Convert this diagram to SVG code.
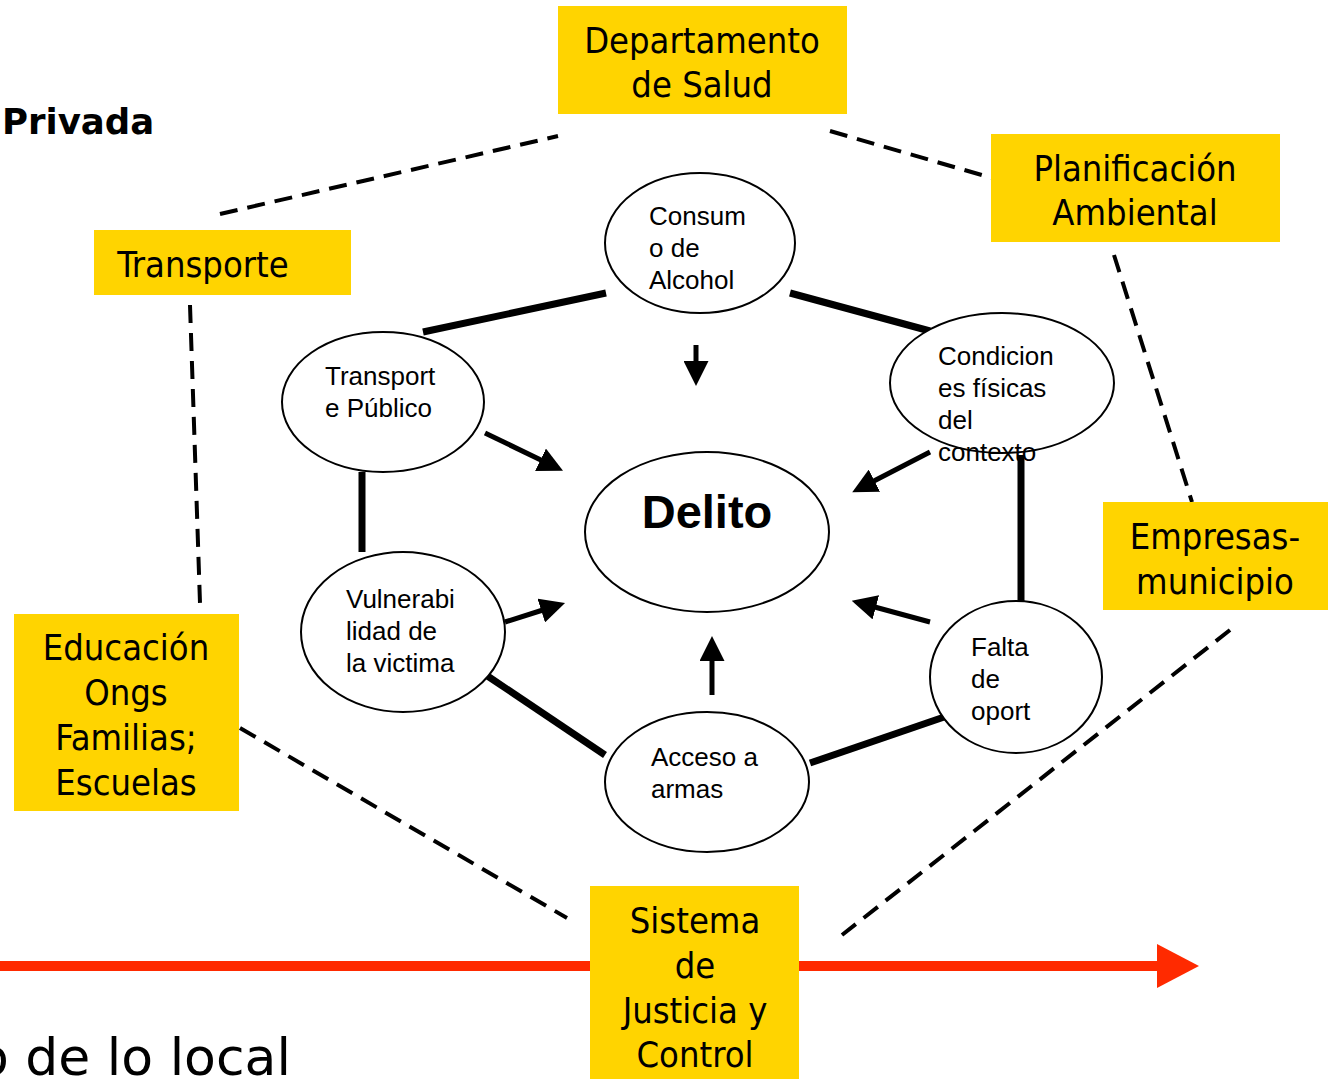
<svg xmlns="http://www.w3.org/2000/svg" width="1330" height="1079" viewBox="0 0 1330 1079">
<defs>
<style>
.box{fill:#FFD400}
.bt{font-family:"DejaVu Sans Condensed","Liberation Sans",sans-serif;font-size:36px;fill:#000;text-anchor:middle}
.el{fill:#fff;stroke:#000;stroke-width:2}
.et{font-family:"Liberation Sans",Arial,sans-serif;font-size:26px;fill:#000}
.dash{stroke:#000;stroke-width:4;stroke-dasharray:18 10;fill:none}
.thick{stroke:#000;stroke-width:7;fill:none}
.arr{stroke:#000;stroke-width:5;fill:none;marker-end:url(#ah)}
</style>
<marker id="ah" viewBox="0 0 10 10" refX="2" refY="5" markerWidth="5" markerHeight="5" orient="auto" markerUnits="strokeWidth">
<path d="M0,0 L10,5 L0,10 z" fill="#000"/>
</marker>
</defs>
<rect width="1330" height="1079" fill="#fff"/>

<g id="connectors">
<line class="dash" x1="220" y1="214" x2="558" y2="136"/>
<line class="dash" x1="830" y1="131" x2="992" y2="178"/>
<line class="dash" x1="1114" y1="255" x2="1192" y2="502"/>
<line class="dash" x1="190" y1="305" x2="200" y2="603"/>
<line class="dash" x1="240" y1="728" x2="567" y2="918"/>
<line class="dash" x1="1230" y1="630" x2="842" y2="935"/>
<line class="thick" x1="423" y1="332" x2="606" y2="293"/>
<line class="thick" x1="790" y1="293" x2="930" y2="331"/>
<line class="thick" x1="1021" y1="455" x2="1021" y2="618"/>
<line class="thick" x1="810" y1="763" x2="950" y2="715"/>
<line class="thick" x1="605" y1="755" x2="486" y2="675"/>
<line class="thick" x1="362" y1="472" x2="362" y2="552"/>
<line class="arr" x1="696" y1="345" x2="696" y2="366"/>
<line class="arr" x1="485" y1="433" x2="545" y2="462"/>
<line class="arr" x1="930" y1="452" x2="870" y2="483"/>
<line class="arr" x1="505" y1="622" x2="546" y2="609"/>
<line class="arr" x1="930" y1="622" x2="871" y2="606"/>
<line class="arr" x1="712" y1="695" x2="712" y2="656"/>
<line x1="0" y1="966" x2="1162" y2="966" stroke="#FF2A00" stroke-width="10"/>
<path d="M1157,944 L1199,966 L1157,988 z" fill="#FF2A00"/>
</g>

<text x="2" y="134" font-family="DejaVu Sans,sans-serif" font-size="35.5" font-weight="bold">Privada</text>
<text x="-23" y="1075" font-family="DejaVu Sans,sans-serif" font-size="52">o de lo local</text>

<g id="n-salud"><rect class="box" x="558" y="6" width="289" height="108"/>
<text class="bt" x="702" y="53">Departamento</text><text class="bt" x="702" y="97">de Salud</text></g>
<g id="n-planif"><rect class="box" x="991" y="134" width="289" height="108"/>
<text class="bt" x="1135" y="181">Planificación</text><text class="bt" x="1135" y="225">Ambiental</text></g>
<g id="n-transporte"><rect class="box" x="94" y="230" width="257" height="65"/>
<text class="bt" x="203" y="277">Transporte</text></g>
<g id="n-empresas"><rect class="box" x="1103" y="502" width="225" height="108"/>
<text class="bt" x="1215" y="549">Empresas-</text><text class="bt" x="1215" y="594">municipio</text></g>
<g id="n-educacion"><rect class="box" x="14" y="614" width="225" height="197"/>
<text class="bt" x="126" y="660">Educación</text><text class="bt" x="126" y="705">Ongs</text><text class="bt" x="126" y="750">Familias;</text><text class="bt" x="126" y="795">Escuelas</text></g>
<g id="n-sistema"><rect class="box" x="590" y="886" width="209" height="193"/>
<text class="bt" x="695" y="933">Sistema</text><text class="bt" x="695" y="978">de</text><text class="bt" x="695" y="1023">Justicia y</text><text class="bt" x="695" y="1067">Control</text></g>

<g id="n-alcohol"><ellipse class="el" cx="700" cy="243" rx="95" ry="70"/>
<text class="et" x="649" y="225">Consum</text><text class="et" x="649" y="257">o de</text><text class="et" x="649" y="289">Alcohol</text></g>
<g id="n-tpublico"><ellipse class="el" cx="383" cy="402" rx="101" ry="70"/>
<text class="et" x="325" y="385">Transport</text><text class="et" x="325" y="417">e Público</text></g>
<g id="n-condiciones"><ellipse class="el" cx="1002" cy="383" rx="112" ry="70"/>
<text class="et" x="938" y="365">Condicion</text><text class="et" x="938" y="397">es físicas</text><text class="et" x="938" y="429">del</text><text class="et" x="938" y="461">contexto</text></g>
<g id="n-delito"><ellipse class="el" cx="707" cy="532" rx="122" ry="80"/>
<text x="707" y="528" font-family="Liberation Sans,Arial,sans-serif" font-size="47" font-weight="bold" text-anchor="middle">Delito</text></g>
<g id="n-vulnerabilidad"><ellipse class="el" cx="403" cy="632" rx="102" ry="80"/>
<text class="et" x="346" y="608">Vulnerabi</text><text class="et" x="346" y="640">lidad de</text><text class="et" x="346" y="672">la victima</text></g>
<g id="n-falta"><ellipse class="el" cx="1016" cy="677" rx="86" ry="76"/>
<text class="et" x="971" y="656">Falta</text><text class="et" x="971" y="688">de</text><text class="et" x="971" y="720">oport</text></g>
<g id="n-armas"><ellipse class="el" cx="707" cy="782" rx="102" ry="70"/>
<text class="et" x="651" y="766">Acceso a</text><text class="et" x="651" y="798">armas</text></g>
</svg>
